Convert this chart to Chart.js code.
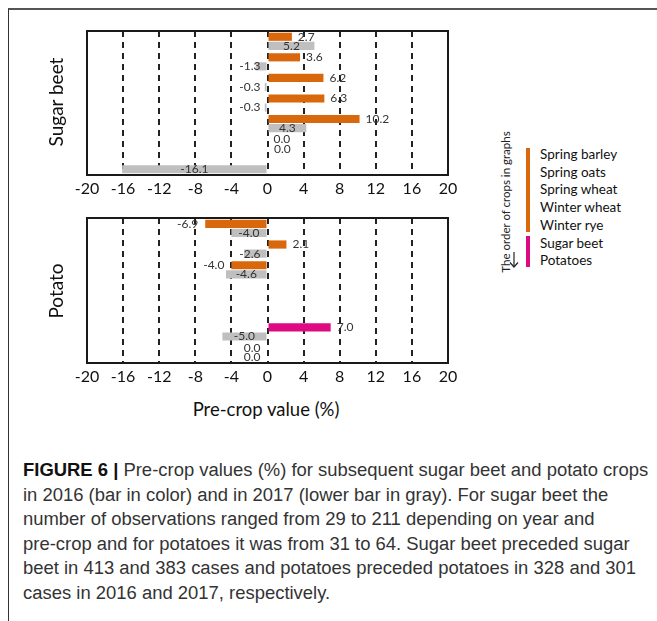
<!DOCTYPE html>
<html>
<head>
<meta charset="utf-8">
<script src="https://cdn.jsdelivr.net/npm/chart.js@4.4.1/dist/chart.umd.min.js"></script>
<style>
  html, body { margin: 0; padding: 0; background: #fff; }
  #page { position: relative; width: 657px; height: 621px; overflow: hidden; background: #fff; }
  #frame { position: absolute; left: 8px; top: 8px; width: 700px; height: 700px;
           border-left: 1px solid #333; border-top: 2px solid #555; }
  canvas { position: absolute; }
  .rot { position: absolute; white-space: nowrap; transform: translate(-50%, -50%) rotate(-90deg); }
  .ytitle { font-family: Lato, sans-serif; font-size: 19px; color: #111; }
  #xtitle { position: absolute; left: 266px; top: 409px; transform: translate(-50%, -50%);
            font-family: Lato, sans-serif; font-size: 18.5px; color: #111; white-space: nowrap; }
  #order { font-family: Lato, sans-serif; font-size: 11.5px; color: #222; }
  .lbar { position: absolute; left: 526px; width: 4px; }
  #legendText { position: absolute; left: 540px; top: 146px; font-family: Lato, sans-serif;
                font-size: 13.5px; line-height: 17.7px; color: #111; white-space: nowrap; }
  #caption { position: absolute; left: 23px; top: 458px; font-family: "Liberation Sans", Arial, sans-serif;
             font-size: 18px; line-height: 24.5px; color: #333; white-space: nowrap; }
  #caption b { color: #111; }
</style>
</head>
<body>
<div id="page">
  <div id="frame"></div>
  <canvas id="sugarChart" width="410" height="185" style="left:60px; top:20px;"></canvas>
  <canvas id="potatoChart" width="410" height="185" style="left:60px; top:208px;"></canvas>
  <div class="rot ytitle" style="left:55px; top:102px;">Sugar beet</div>
  <div class="rot ytitle" style="left:55px; top:291px;">Potato</div>
  <div id="xtitle">Pre-crop value (%)</div>

  <div id="order" class="rot" style="left:505px; top:202px;">The order of crops in graphs</div>
  <svg style="position:absolute; left:508px; top:250px;" width="14" height="20">
    <line x1="6" y1="2" x2="6" y2="17" stroke="#222" stroke-width="1.2"/>
    <polyline points="2,12.5 6,17 10,12.5" fill="none" stroke="#222" stroke-width="1.2"/>
  </svg>
  <div class="lbar" style="top:148px; height:84px; background:#D9670B;"></div>
  <div class="lbar" style="top:236px; height:31px; background:#DE0A82;"></div>
  <div id="legendText"></div>

  <div id="caption">
    <div><span id="capLine1"><b>FIGURE 6 |</b> Pre-crop values (%) for subsequent sugar beet and potato crops</span></div>
    <div>in 2016 (bar in color) and in 2017 (lower bar in gray). For sugar beet the</div>
    <div>number of observations ranged from 29 to 211 depending on year and</div>
    <div>pre-crop and for potatoes it was from 31 to 64. Sugar beet preceded sugar</div>
    <div>beet in 413 and 383 cases and potatoes preceded potatoes in 328 and 301</div>
    <div>cases in 2016 and 2017, respectively.</div>
  </div>
</div>
<script>
// pre-crops, in the order they appear in both graphs
const crops = ['Spring barley', 'Spring oats', 'Spring wheat', 'Winter wheat', 'Winter rye', 'Sugar beet', 'Potatoes'];
// sugar beet as subsequent crop
const sugarBeet2016 = [2.7, 3.6, 6.2, 6.3, 10.2, 0.0, null];
const sugarBeet2017 = [5.2, -1.3, -0.3, -0.3, 4.3, 0.0, -16.1];
// potato as subsequent crop
const potato2016 = [-6.9, 2.1, -4.0, null, null, 7.0, 0.0];
const potato2017 = [-4.0, -2.6, -4.6, null, null, -5.0, 0.0];
const xTicks = [-20, -16, -12, -8, -4, 0, 4, 8, 12, 16, 20];

const ORANGE = '#D9670B';
const PINK = '#DE0A82';
const GRAY = '#BFBFBF';
const rootCrops = ['Sugar beet', 'Potatoes'];
const colored = crops.map(c => rootCrops.includes(c) ? PINK : ORANGE);

document.getElementById('legendText').innerHTML = crops.map(c => '<div>' + c + '</div>').join('');

// fit caption so first line has the same width as the figure's
const capLine1 = document.getElementById('capLine1');
const natural = capLine1.getBoundingClientRect().width;
document.getElementById('caption').style.fontSize = (18 * 626 / natural).toFixed(2) + 'px';

Chart.defaults.font.family = 'Lato, sans-serif';
Chart.defaults.color = '#111';

// plot frame and value labels
const boxAndLabels = {
    id: 'boxAndLabels',
    afterDatasetsDraw(chart, args, opts) {
        const ctx = chart.ctx;
        const a = chart.chartArea;
        ctx.save();
        ctx.strokeStyle = '#1a1a1a';
        ctx.lineWidth = 2;
        ctx.strokeRect(a.left, a.top, a.right - a.left, a.bottom - a.top);
        ctx.font = '12px Lato, sans-serif';
        ctx.fillStyle = '#333';
        ctx.textBaseline = 'middle';
        const zero = chart.scales.x.getPixelForValue(0);
        chart.data.datasets.forEach((ds, di) => {
            chart.getDatasetMeta(di).data.forEach((bar, i) => {
                const v = ds.data[i];
                if (v === null || v === undefined) return;
                const txt = v.toFixed(1);
                const w = ctx.measureText(txt).width;
                const len = Math.abs(bar.x - bar.base);
                const side = v > 0 ? 1 : (v < 0 ? -1 : opts.zeroSide);
                if (di === 1 && len >= w + 3) {
                    ctx.textAlign = 'center';
                    ctx.fillText(txt, (bar.x + bar.base) / 2, bar.y);
                    return;
                }
                let x;
                if (di === 1) {
                    x = side > 0 ? zero + 6.5 : zero - 7;
                } else {
                    x = side > 0 ? bar.x + 6 : bar.x - 7;
                }
                ctx.textAlign = side > 0 ? 'left' : 'right';
                ctx.fillText(txt, x, bar.y);
            });
        });
        ctx.restore();
    }
};

function makeChart(id, d2016, d2017, padTop, zeroSide) {
    return new Chart(document.getElementById(id).getContext('2d'), {
        type: 'bar',
        data: {
            labels: crops,
            datasets: [
                { label: '2016', data: d2016, backgroundColor: colored,
                  categoryPercentage: 0.88, barPercentage: 0.9 },
                { label: '2017', data: d2017, backgroundColor: GRAY,
                  categoryPercentage: 0.88, barPercentage: 0.9 }
            ]
        },
        options: {
            indexAxis: 'y',
            responsive: false,
            animation: false,
            layout: { padding: { left: 27, right: 22, top: padTop, bottom: 0 } },
            plugins: {
                legend: { display: false },
                tooltip: { enabled: false },
                boxAndLabels: { zeroSide: zeroSide }
            },
            scales: {
                x: {
                    min: -20,
                    max: 20,
                    afterBuildTicks: s => { s.ticks = xTicks.map(v => ({ value: v })); },
                    afterFit: s => { s.height = 30; },
                    grid: {
                        drawTicks: false,
                        lineWidth: 2,
                        color: c => (c.tick && Math.abs(c.tick.value) === 20) ? 'rgba(0,0,0,0)' : '#222'
                    },
                    border: { display: false, dash: [6, 5] },
                    ticks: { padding: 4, color: '#111', font: { size: 16 }, maxRotation: 0, autoSkip: false }
                },
                y: { display: false, grid: { display: false } }
            }
        },
        plugins: [boxAndLabels]
    });
}

const sugar_chart = makeChart('sugarChart', sugarBeet2016, sugarBeet2017, 11, 1);
const potato_chart = makeChart('potatoChart', potato2016, potato2017, 10, -1);
</script>
</body>
</html>
